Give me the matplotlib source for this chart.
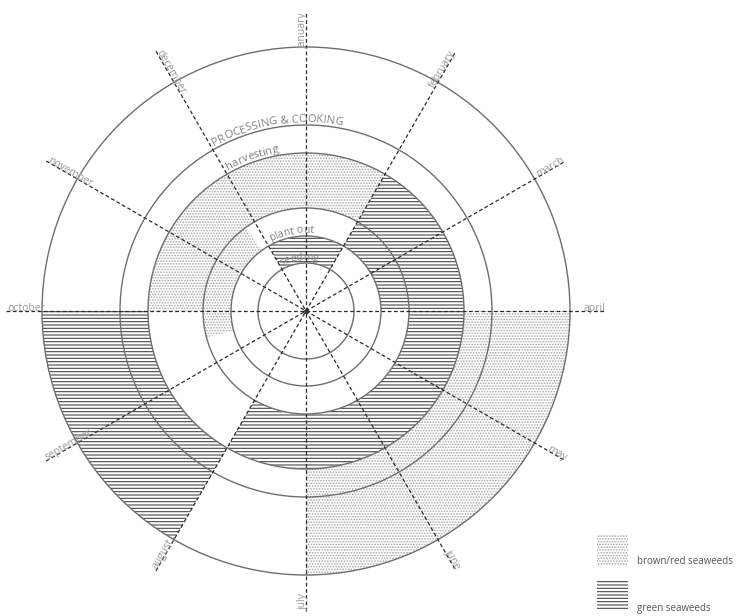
import numpy as np
import matplotlib
matplotlib.use("Agg")
import matplotlib.pyplot as plt
from matplotlib.patches import Wedge, Circle, Rectangle
from matplotlib.font_manager import FontProperties, findfont, get_font

plt.rcParams['font.family'] = ['Open Sans', 'DejaVu Sans']
plt.rcParams['hatch.linewidth'] = 0.8

# --- chart data ---
months = ['january', 'february', 'march', 'april', 'may', 'june',
          'july', 'august', 'september', 'october', 'november', 'december']
circle_radii = [48, 75, 103, 158, 186, 264]          # drawn rings
stage_names = ['seeding', 'plant out', 'harvesting', 'PROCESSING & COOKING']
stage_radii = [48, 75, 158, 186]                      # ring each name sits on

# bands (inner, outer radius) in which the periods are shaded
seeding_band = (48, 75)
plantout_band = (75, 103)
harvest_band = (103, 158)
process_band = (158, 264)

# periods as (start month, end month), january = 0, may run past december
brown_bands = [plantout_band, harvest_band, process_band]
brown_periods = [(8.5, 10.8), (9, 13), (3, 6)]
green_bands = [seeding_band, plantout_band, harvest_band, process_band]
green_periods = [(11, 13), (1, 3), (1, 7), (7, 9)]

legend_labels = ['brown/red seaweeds', 'green seaweeds']

# --- figure in pixel units ---
fig = plt.figure(figsize=(7.36, 6.16), dpi=100)
ax = fig.add_axes([0, 0, 1, 1])
ax.set_xlim(0, 736)
ax.set_ylim(0, 616)
ax.axis('off')

cx, cy = 306, 305
line_len = 300

brown_style = dict(facecolor='white', edgecolor='#a8a8a8', hatch='......', linewidth=0)
green_style = dict(facecolor='white', edgecolor='#4a4a4a', hatch='-----', linewidth=0)


def month_angle(m):
    # january at the top, months run clockwise
    return 90 - 30 * m


# shaded periods
for bands, periods, style in [(brown_bands, brown_periods, brown_style),
                              (green_bands, green_periods, green_style)]:
    for (r_in, r_out), (m0, m1) in zip(bands, periods):
        ax.add_patch(Wedge((cx, cy), r_out, month_angle(m1), month_angle(m0),
                           width=r_out - r_in, zorder=1, **style))

# rings
for r in circle_radii:
    ax.add_patch(Circle((cx, cy), r, fill=False, edgecolor='#6e6e6e', lw=1.0, zorder=2))

# month lines (each one a full diameter)
for i in range(6):
    a = np.radians(month_angle(i))
    ax.plot([cx - line_len * np.cos(a), cx + line_len * np.cos(a)],
            [cy - line_len * np.sin(a), cy + line_len * np.sin(a)],
            ls=(0, (3, 2)), color='#2a2a2a', lw=0.9, zorder=3)
ax.plot(cx, cy, 'o', ms=2.5, color='#333333', zorder=3)

# month labels at the outer end of each line
for i, name in enumerate(months):
    a = (month_angle(i) + 180) % 360 - 180
    ar = np.radians(a)
    x = cx + (line_len - 1) * np.cos(ar)
    y = cy + (line_len - 1) * np.sin(ar)
    if -90 < a <= 90:
        rot, ha = a, 'right'
    else:
        rot, ha = a + 180, 'left'
    ax.text(x, y, name, rotation=rot, rotation_mode='anchor', ha=ha, va='baseline',
            fontsize=7.5, color='#999999', zorder=4)


# curved stage names, one glyph at a time along the ring
def curved_text(s, r, start_deg, size, color):
    fp = FontProperties(family='Open Sans', size=size)
    font = get_font(findfont(fp))
    font.set_size(size, 100)  # advances come out in pixels
    adv = []
    for ch in s:
        g = font.load_char(ord(ch))
        adv.append(g.linearHoriAdvance / 65536)
    pos = 0.0
    for ch, a in zip(s, adv):
        mid = pos + a / 2
        pos += a
        if ch == ' ':
            continue
        ang = start_deg - np.degrees(mid / r)
        ar = np.radians(ang)
        ax.text(cx + r * np.cos(ar), cy + r * np.sin(ar), ch, fontproperties=fp,
                rotation=ang - 90, rotation_mode='anchor', ha='center', va='baseline',
                color=color, zorder=4)


starts = [119, 117, 119, 119]
sizes = [7.5, 7.5, 8, 8]
for name, r, st, sz in zip(stage_names, stage_radii, starts, sizes):
    curved_text(name, r + 3, st, sz, '#808080')

# legend
for k, (label, style) in enumerate(zip(legend_labels, [brown_style, green_style])):
    y0 = 51 - 46 * k
    ax.add_patch(Rectangle((597, y0), 31, 31, zorder=1, **style))
    ax.text(637, y0 + 3, label, fontsize=7, color='#555555', va='center', ha='left')

fig.savefig('out.png', dpi=100)
